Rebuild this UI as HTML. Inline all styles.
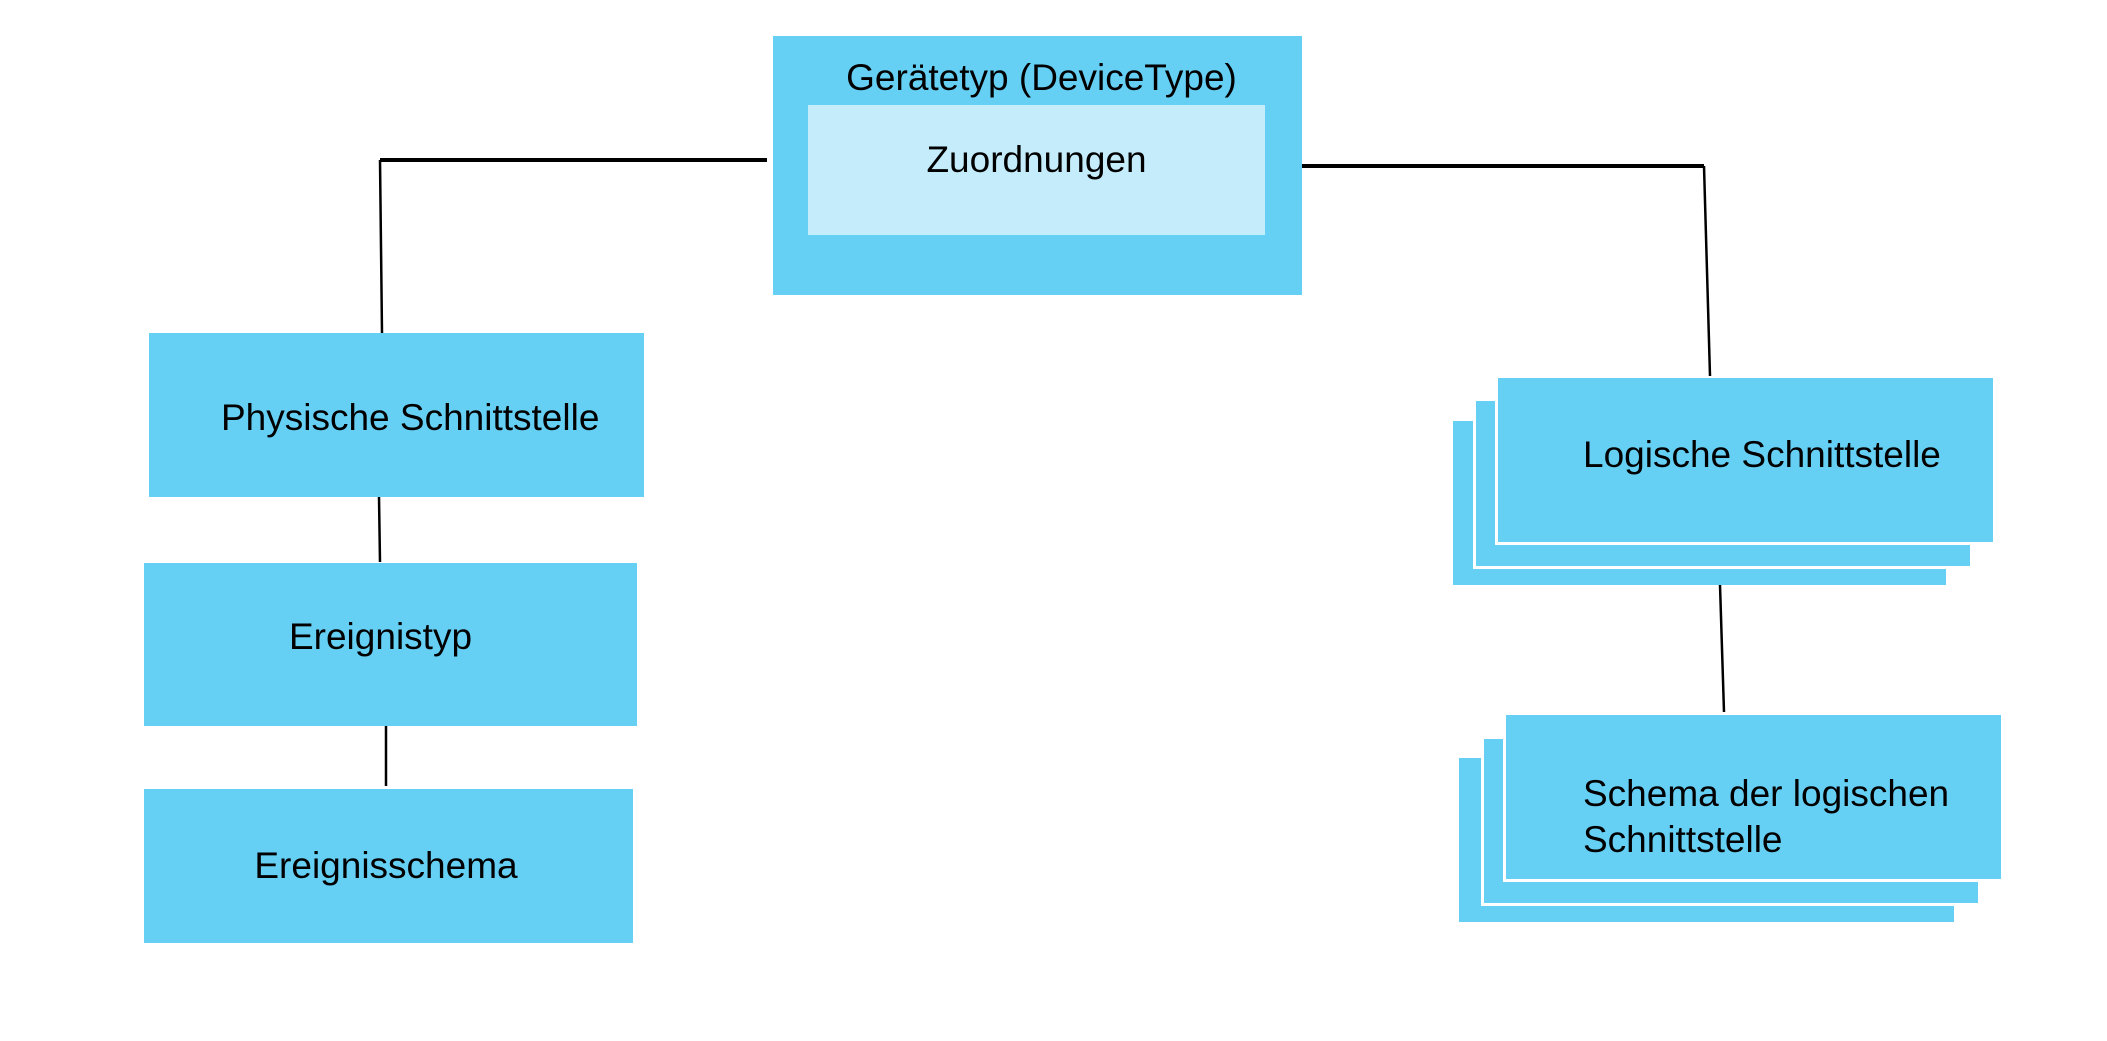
<!DOCTYPE html>
<html><head><meta charset="utf-8"><style>
body{margin:0;background:#fff;width:2107px;height:1041px;overflow:hidden;position:relative;font-family:"Liberation Sans",sans-serif;}
.b{position:absolute;background:#66d0f4;box-sizing:border-box;}
.w{border:3px solid #fff;}
.t{position:absolute;font-size:37px;color:#000;white-space:nowrap;line-height:1;}
</style></head><body>
<div class="b" style="left:773px;top:36px;width:529px;height:259px"></div>
<div style="position:absolute;left:808px;top:105px;width:457px;height:130px;background:#c4ecfa"></div>
<div class="t" style="left:773px;width:537px;text-align:center;top:59px">Gerätetyp (DeviceType)</div>
<div class="t" style="left:808px;width:457px;text-align:center;top:141px">Zuordnungen</div>

<div class="b" style="left:149px;top:333px;width:495px;height:164px"></div>
<div class="t" style="left:221px;top:399px">Physische Schnittstelle</div>
<div class="b" style="left:144px;top:563px;width:493px;height:163px"></div>
<div class="t" style="left:144px;width:473px;text-align:center;top:618px">Ereignistyp</div>
<div class="b" style="left:144px;top:789px;width:489px;height:154px"></div>
<div class="t" style="left:144px;width:484px;text-align:center;top:847px">Ereignisschema</div>

<div class="b" style="left:1453px;top:421px;width:493px;height:164px"></div>
<div class="b w" style="left:1473px;top:398px;width:500px;height:171px"></div>
<div class="b w" style="left:1495px;top:375px;width:501px;height:170px"></div>
<div class="t" style="left:1583px;top:436px">Logische Schnittstelle</div>

<div class="b" style="left:1459px;top:758px;width:495px;height:164px"></div>
<div class="b w" style="left:1481px;top:736px;width:500px;height:170px"></div>
<div class="b w" style="left:1503px;top:712px;width:501px;height:170px"></div>
<div class="t" style="left:1583px;top:775px">Schema der logischen</div>
<div class="t" style="left:1583px;top:821px">Schnittstelle</div>

<svg width="2107" height="1041" style="position:absolute;left:0;top:0">
<g stroke="#000" fill="none">
<path d="M380 160 H767" stroke-width="4"/>
<path d="M380 160 L382 333" stroke-width="2.5"/>
<path d="M1302 166 H1704" stroke-width="4"/>
<path d="M1704 166 L1710 376" stroke-width="2.5"/>
<path d="M379 497 L380 562" stroke-width="2.5"/>
<path d="M386 726 V786" stroke-width="2.5"/>
<path d="M1720 585 L1724 712" stroke-width="2.5"/>
</g></svg>
</body></html>
